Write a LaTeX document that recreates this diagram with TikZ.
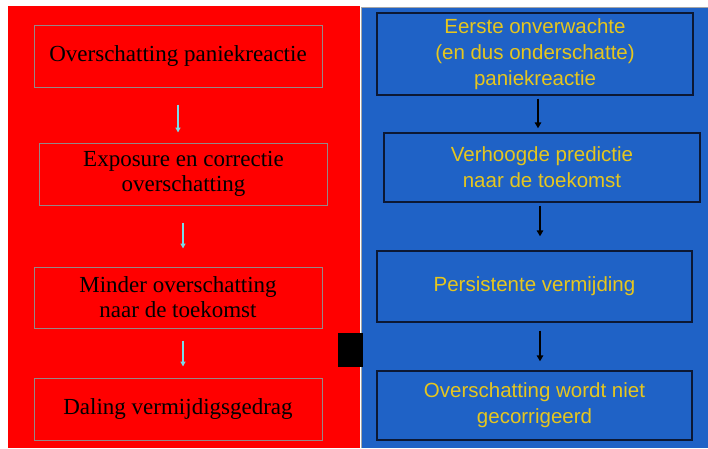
\documentclass[tikz,border=0pt]{standalone}
\usepackage{fontspec}
\setmainfont{Liberation Serif}
\newfontfamily\arialfont{Liberation Sans}
\usetikzlibrary{arrows.meta,calc}
\definecolor{panelred}{RGB}{255,0,0}
\definecolor{panelblue}{RGB}{31,98,198}
\definecolor{boxgray}{RGB}{150,135,135}
\definecolor{boxnavy}{RGB}{12,24,52}
\definecolor{textyellow}{RGB}{230,198,30}
\definecolor{arrowcyan}{RGB}{120,220,232}
\tikzset{
  redbox/.style={draw=boxgray, line width=1pt, fill=none, minimum width=288pt,
    minimum height=62pt, align=center, inner sep=0pt, text=black,
    font=\fontsize{23}{25}\selectfont},
  bluebox/.style={draw=boxnavy, line width=1.4pt, fill=none, minimum width=316pt,
    align=center, inner sep=0pt, text=textyellow,
    font=\arialfont\fontsize{20.5}{26}\selectfont},
  cyanarrow/.style={draw=arrowcyan, line width=1.5pt,
    -{Triangle[width=5pt,length=5pt]}},
  blackarrow/.style={draw=black, line width=1.5pt,
    -{Triangle[width=6.5pt,length=6pt]}}
}
\begin{document}
\begin{tikzpicture}[x=1pt,y=-1pt]
  \useasboundingbox (0,0) rectangle (708,448);
  \fill[white] (0,0) rectangle (708,448);
  % two coloured panels
  \fill[panelred] (8,6) rectangle (360,448);
  \fill[panelblue] (361,7) rectangle (708,448);
  \draw[gray!70, line width=0.6pt] (361,448) -- (361,7) -- (708,7);
  % separator marker
  \fill[black] (338,333) rectangle (363,367);

  % left column
  \node[redbox] (r1) at (178,56) {Overschatting paniekreactie};
  \node[redbox] (r2) at (183.5,174) {Exposure en correctie\\overschatting};
  \node[redbox, minimum height=61pt] (r3) at (178,297.5) {Minder overschatting\\naar de toekomst};
  \node[redbox] (r4) at (178,409) {Daling vermijdigsgedrag};

  \draw[cyanarrow] ($(r1.south)+(0,17)$) -- ($(r1.south |- r2.north)+(0,-10)$);
  \draw[cyanarrow] ($(r2.south)+(-0.5,17)$) -- ($(r2.south |- r3.north)+(-0.5,-18)$);
  \draw[cyanarrow] ($(r3.south)+(5,12)$) -- ($(r3.south |- r4.north)+(5,-11)$);

  % right column
  \node[bluebox, minimum height=82pt] (b1) at (535,54) {Eerste onverwachte\\(en dus onderschatte)\\paniekreactie};
  \node[bluebox, minimum height=69pt] (b2) at (542,167.5) {Verhoogde predictie\\naar de toekomst};
  \node[bluebox, minimum width=315pt, minimum height=71pt] (b3) at (534.5,286.5) {Persistente vermijding};
  \node[bluebox, minimum width=315pt, minimum height=69pt] (b4) at (534.5,405.5) {Overschatting wordt niet\\gecorrigeerd};

  \draw[blackarrow] ($(b1.south)+(3,3)$) -- ($(b1.south |- b2.north)+(3,-4)$);
  \draw[blackarrow] ($(b2.south)+(-2,3)$) -- ($(b2.south |- b3.north)+(-2,-14)$);
  \draw[blackarrow] ($(b3.south)+(5.5,8)$) -- ($(b3.south |- b4.north)+(5.5,-9)$);
\end{tikzpicture}
\end{document}
